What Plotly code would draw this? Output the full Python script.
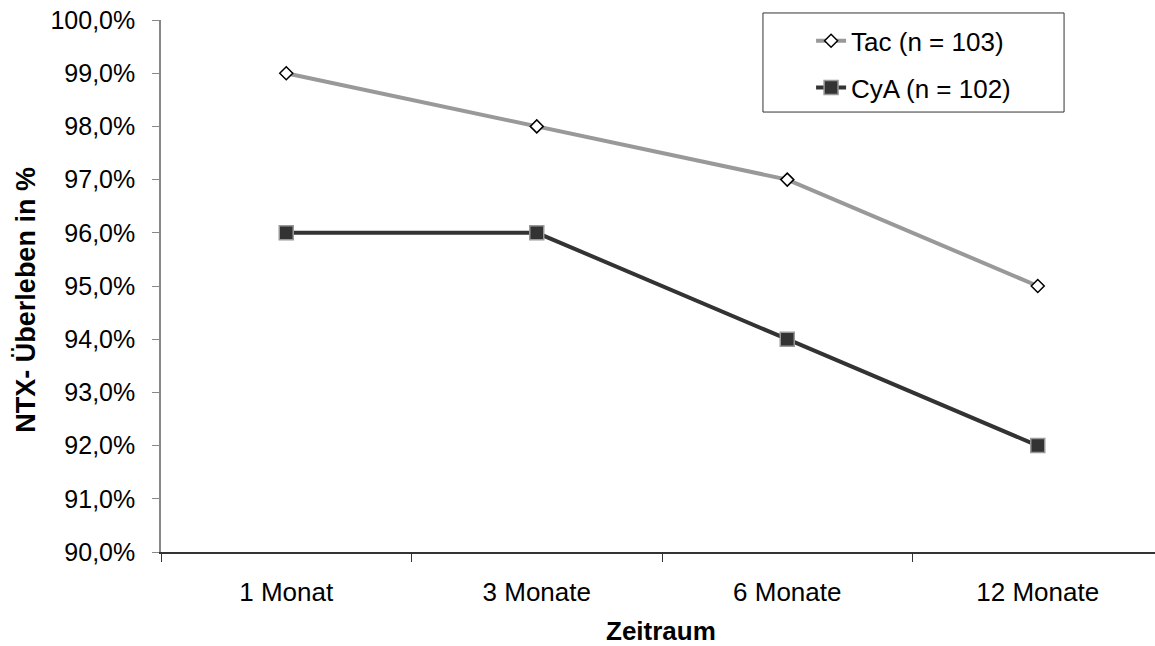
import plotly.graph_objects as go

categories = ["1 Monat", "3 Monate", "6 Monate", "12 Monate"]
tac_values = [0.99, 0.98, 0.97, 0.95]
cya_values = [0.96, 0.96, 0.94, 0.92]
tac_name = "Tac (n = 103)"
cya_name = "CyA (n = 102)"
y_ticks = [0.90, 0.91, 0.92, 0.93, 0.94, 0.95, 0.96, 0.97, 0.98, 0.99, 1.00]
x_title = "Zeitraum"
y_title = "NTX- Überleben in %"

FONT = "Liberation Sans, Arial, Helvetica, sans-serif"

fig = go.Figure()
fig.add_trace(go.Scatter(
    x=categories, y=tac_values, name=tac_name, mode="lines+markers",
    legendgroup="a",
    line=dict(color="#999999", width=4),
    marker=dict(symbol="diamond", size=10, color="white",
                line=dict(color="black", width=1.5)),
))
fig.add_trace(go.Scatter(
    x=categories, y=cya_values, name=cya_name, mode="lines+markers",
    legendgroup="b",
    line=dict(color="#333333", width=4),
    marker=dict(symbol="square", size=14, color="#333333",
                line=dict(color="#999999", width=1.5)),
))

# legend frame
fig.add_shape(type="rect", xref="paper", yref="paper",
              x0=0.6056, x1=0.9085, y0=0.827, y1=1.0132,
              line=dict(color="#333333", width=1), fillcolor="rgba(0,0,0,0)")

# axis titles
fig.add_annotation(text="<b>" + x_title + "</b>", xref="paper", yref="paper",
                   x=0.503, y=-0.1765, xanchor="center", yanchor="bottom",
                   height=26, valign="middle",
                   showarrow=False, font=dict(size=26))
fig.add_annotation(text="<b>" + y_title + "</b>", xref="paper", yref="paper",
                   x=-0.136, y=0.474, xanchor="center", yanchor="middle",
                   textangle=-90, showarrow=False, font=dict(size=27))

fig.update_layout(
    width=1155, height=646,
    margin=dict(l=161, r=0, t=20, b=94, autoexpand=False),
    paper_bgcolor="white", plot_bgcolor="white",
    font=dict(family=FONT, size=25, color="black"),
    separators=",.",
    showlegend=True,
    legend=dict(
        x=0.654, y=1.005, xanchor="left", yanchor="top",
        bgcolor="rgba(0,0,0,0)", borderwidth=0,
        font=dict(size=26), tracegroupgap=10,
        itemwidth=30,
    ),
    xaxis=dict(
        type="category", range=[-0.5, 3.468],
        showline=True, linecolor="#333333", linewidth=1.5,
        ticks="outside", tickson="boundaries", ticklen=8, tickcolor="#333333",
        showgrid=False, zeroline=False, fixedrange=True,
        tickfont=dict(size=26),
        ticklabelstandoff=16,
    ),
    yaxis=dict(
        range=[0.90, 1.00], tickvals=y_ticks, tickformat=".1%",
        showline=True, linecolor="#888888", linewidth=1.5,
        ticks="outside", ticklen=7, tickcolor="#888888",
        showgrid=False, zeroline=False,
        tickfont=dict(size=25),
        ticklabelstandoff=12,
    ),
)

fig.write_html("out.html")
